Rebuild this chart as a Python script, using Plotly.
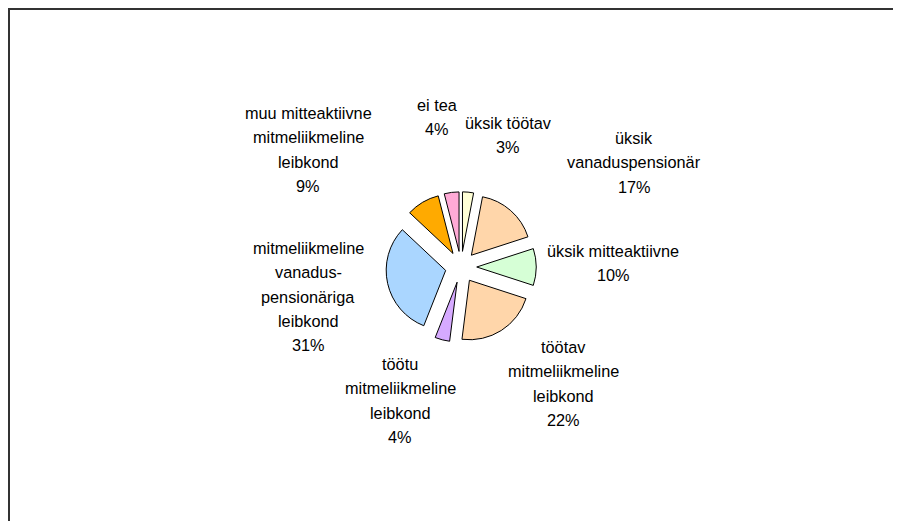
import plotly.graph_objects as go

# data (clockwise from 12 o'clock)
categories = ["üksik töötav", "üksik<br>vanaduspensionär", "üksik mitteaktiivne",
              "töötav<br>mitmeliikmeline<br>leibkond", "töötu<br>mitmeliikmeline<br>leibkond",
              "mitmeliikmeline<br>vanadus-<br>pensionäriga<br>leibkond",
              "muu mitteaktiivne<br>mitmeliikmeline<br>leibkond", "ei tea"]
shares = [3, 17, 10, 22, 4, 31, 9, 4]
colors = ["#FFFFD6", "#FFD6AA", "#D6FFD6", "#FFD6AA", "#D6AAFF", "#AAD6FF", "#FFAA00", "#FFAAD6"]

# label placement in page pixels: (centre x, first baseline y)
label_pos = [(508, 128), (634, 143), (613, 256), (563, 352),
             (400, 369), (308, 253), (308, 118), (437, 110)]

# the page body has an 8px margin, so the figure is shrunk and everything shifted
OFF = 8
W, H = 901 - OFF, 521 - OFF
FS = 16.3
LINE = 24.2


def px(x):
    return (x - OFF) / W


def py(y):
    return 1 - (y - OFF) / H


fig = go.Figure()
fig.add_trace(go.Pie(
    labels=categories, values=shares, sort=False, direction="clockwise", rotation=0,
    marker=dict(colors=colors, line=dict(color="black", width=1)),
    pull=[0.264] * len(shares), textinfo="none", hoverinfo="label+percent",
    domain=dict(x=[px(385.8), px(536.2)], y=[py(342.2), py(191.8)]),
    showlegend=False,
))

annotations = []
for name, v, (cx, by) in zip(categories, shares, label_pos):
    lines = name.split("<br>") + [f"{v}%"]
    for i, ln in enumerate(lines):
        yb = by + i * LINE
        annotations.append(dict(
            text=ln, x=px(cx), y=py(yb - 0.3 * FS), xref="paper", yref="paper",
            xanchor="center", yanchor="middle", showarrow=False,
            font=dict(family="Arial, Liberation Sans", size=FS, color="black"),
        ))

fig.update_layout(
    width=W, height=H, margin=dict(l=0, r=0, t=0, b=0),
    paper_bgcolor="white", plot_bgcolor="white",
    annotations=annotations,
    shapes=[
        dict(type="line", xref="paper", yref="paper", x0=0, x1=1.01, y0=1 - 1 / H, y1=1 - 1 / H,
             line=dict(color="#333333", width=2)),
        dict(type="line", xref="paper", yref="paper", x0=1 / W, x1=1 / W, y0=1, y1=-0.01,
             line=dict(color="#333333", width=2)),
    ],
)

fig.write_html("out.html")
